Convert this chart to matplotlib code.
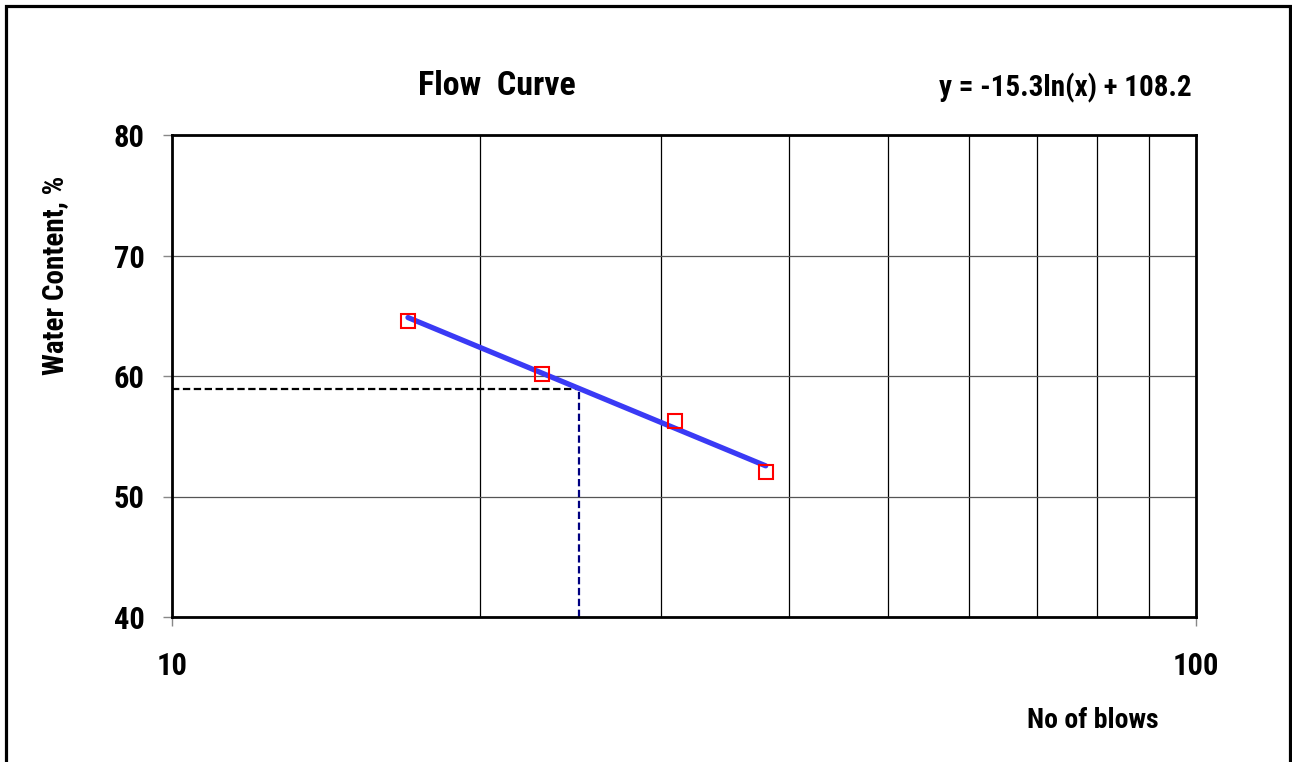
import matplotlib
matplotlib.use("Agg")
import matplotlib.pyplot as plt
from matplotlib.patches import Rectangle
from matplotlib.ticker import FixedLocator, NullFormatter
import numpy as np

plt.rcParams["font.family"] = ["Roboto Condensed", "DejaVu Sans"]
plt.rcParams["font.weight"] = "bold"

# test data
blows = [17, 23, 31, 38]
water = [64.6, 60.2, 56.3, 52.0]

# fitted trend y = a ln(x) + b
a, b = -15.3, 108.2
fit_x = np.array([17, 38])
n25 = 25
w25 = a * np.log(n25) + b

fig = plt.figure(figsize=(12.92, 7.62), dpi=100)
ax = fig.add_axes([172 / 1292, 1 - 617 / 762, 1024 / 1292, 482 / 762])

ax.set_xscale("log")
ax.set_xlim(10, 100)
ax.set_ylim(40, 80)

ax.xaxis.set_minor_locator(FixedLocator(range(20, 100, 10)))
ax.xaxis.set_minor_formatter(NullFormatter())
ax.set_xticks([10, 100], ["10", "100"])
ax.set_yticks([40, 50, 60, 70, 80])

ax.grid(True, which="minor", axis="x", color="black", lw=0.9)
ax.grid(True, which="major", axis="y", color="#555555", lw=0.9)
ax.set_axisbelow(True)

ax.tick_params(axis="x", which="minor", length=0)
ax.tick_params(axis="x", which="major", length=6.5, width=1, color="#888888", pad=18, labelsize=22)
ax.tick_params(axis="y", length=6.5, width=1, color="#888888", pad=13, labelsize=22)
for s in ax.spines.values():
    s.set_linewidth(2)

# dashed read-off lines at 25 blows
ax.plot([10, n25], [w25, w25], color="black", ls=(0, (3.3, 1.6)), lw=1.6)
ax.plot([n25, n25], [40, w25], color="#000080", ls=(0, (3.3, 1.6)), lw=1.6)

xx = np.linspace(fit_x[0], fit_x[1], 50)
ax.plot(xx, a * np.log(xx) + b, color="#3a3af5", lw=3.8, solid_capstyle="round")
ax.plot(blows, water, ls="none", marker="s", ms=10, mfc="none", mec="red", mew=1.5)

fig.text(497 / 1292, 1 - 86 / 762, "Flow  Curve", ha="center", va="center", fontsize=24.5)
fig.text(1065 / 1292, 1 - 88 / 762, "y = -15.3ln(x) + 108.2", ha="center", va="center", fontsize=21)
fig.text(1093 / 1292, 1 - 720 / 762, "No of blows", ha="center", va="center", fontsize=20)
fig.text(55 / 1292, 1 - 275 / 762, "Water Content, %", ha="center", va="center",
         rotation=90, fontsize=21)

fig.patches.append(Rectangle((5.5 / 1292, -10 / 762), 1284 / 1292, 766 / 762, transform=fig.transFigure,
                             fill=False, ec="black", lw=2.3))

fig.savefig("out.png", dpi=100)
